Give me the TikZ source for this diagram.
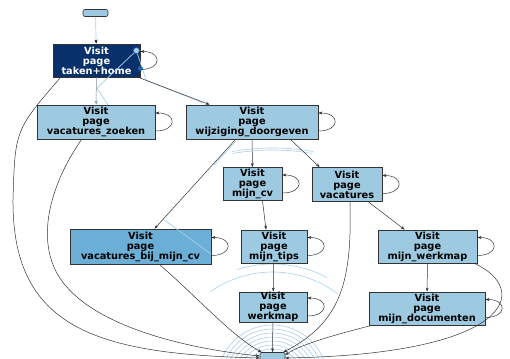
\documentclass[tikz,border=0pt]{standalone}
\usepackage{fontspec}
\setsansfont{DejaVu Sans}
\usetikzlibrary{arrows.meta}
\definecolor{nodefill}{HTML}{9ECAE1}
\definecolor{darkfill}{HTML}{08306B}
\definecolor{midfill}{HTML}{6BAED6}
\definecolor{tracecol}{HTML}{A9D0EA}
\definecolor{edgecol}{HTML}{333333}
\definecolor{dotcol}{HTML}{2166AC}
\begin{document}
\begin{tikzpicture}[x=1pt,y=-1pt,
  page/.style={draw=edgecol, line width=0.8pt, fill=nodefill, text=black,
    font=\sffamily\bfseries\fontsize{9.8}{10}\selectfont, align=center, inner sep=0pt},
  edge/.style={draw=edgecol, line width=0.5pt, -{Stealth[length=4pt,width=3pt]}},
  traceline/.style={draw=tracecol, line width=0.7pt},
  term/.style={draw=edgecol, line width=0.6pt, fill=nodefill, rounded corners=2pt, inner sep=0pt}]
\useasboundingbox (0,0) rectangle (510,358);

% light blue trace decorations (background)
\foreach \r in {27,31,...,55} {
  \draw[traceline, line width=0.6pt] (272.5,380) ++(180:\r) arc[start angle=180, end angle=360, radius=\r];
}
\draw[traceline, line width=0.6pt] (272.5,380) ++(235:108) arc[start angle=235, end angle=307, radius=108];
\draw[traceline, line width=0.6pt] (272.5,380) ++(252:116) arc[start angle=252, end angle=298, radius=116];
\draw[traceline, line width=0.6pt] (272.5,380) ++(260:230) arc[start angle=260, end angle=280, radius=230];
\draw[traceline, line width=0.6pt] (272.5,380) ++(260:232) arc[start angle=260, end angle=280, radius=232];

% nodes
\node[term, minimum width=25pt, minimum height=7pt] (start) at (95.5,13) {};
\node[term, minimum width=25pt, minimum height=9pt, rounded corners=1pt] (end) at (272.5,357) {};

\node[page, fill=darkfill, text=white, minimum width=87pt, minimum height=33pt] (th) at (96.5,60.5) {Visit\\page\\taken+home};
\node[page, minimum width=118pt, minimum height=34pt] (vz) at (96,122) {Visit\\page\\vacatures\_zoeken};
\node[page, minimum width=132pt, minimum height=34pt] (wd) at (252,122) {Visit\\page\\wijziging\_doorgeven};
\node[page, minimum width=59pt, minimum height=33pt] (cv) at (252.5,184) {Visit\\page\\mijn\_cv};
\node[page, minimum width=70pt, minimum height=34pt] (vac) at (347,184.5) {Visit\\page\\vacatures};
\node[page, fill=midfill, minimum width=141pt, minimum height=35pt] (vbm) at (140.5,246.5) {Visit\\page\\vacatures\_bij\_mijn\_cv};
\node[page, minimum width=66pt, minimum height=33pt] (tips) at (274,246.5) {Visit\\page\\mijn\_tips};
\node[page, minimum width=99pt, minimum height=33pt] (mw) at (427.5,246.5) {Visit\\page\\mijn\_werkmap};
\node[page, minimum width=68pt, minimum height=30pt] (wm) at (273,307) {Visit\\page\\werkmap};
\node[page, minimum width=116pt, minimum height=33pt] (md) at (427,308.5) {Visit\\page\\mijn\_documenten};

% trace lines
\draw[traceline] ([xshift=-4pt,yshift=-7pt]th.north east) -- (97,88);
\draw[traceline] ([xshift=-4pt,yshift=-7pt]th.north east) -- (146,80) -- (203,103);
\draw[traceline] (97,88) -- (108,105);
\draw[traceline] (163,219) -- (211,254);
\draw[traceline] (236,141) -- (214,165);

% edges
\draw[traceline, -{Stealth[length=4pt,width=3pt,black]}] (start) -- (th);
\draw[edge, draw=tracecol!60!edgecol] (th) -- (vz);
\draw[edge] ([xshift=-2pt]th.south east) -- ([xshift=24pt]wd.north west);
\draw[edge] ([xshift=8pt]th.south west) .. controls (15,130) .. (13,200)
   .. controls (12,330) and (100,354) .. ([yshift=-1pt]end.west);
\draw[edge] ([xshift=45pt]vz.south west) .. controls (52,182) and (40,228) .. (52,262)
   .. controls (72,322) and (180,348) .. ([yshift=1pt]end.west);
\draw[edge] (wd) -- (cv);
\draw[edge] ([xshift=-28pt]wd.south east) -- ([xshift=8pt]vac.north west);
\draw[edge] ([xshift=50pt]wd.south west) -- ([xshift=85pt]vbm.north west);
\draw[edge] ([xshift=10pt]cv.south) -- ([xshift=-8pt]tips.north);
\draw[edge] ([xshift=-14pt]vac.south east) -- ([xshift=27pt]mw.north west);
\draw[edge] ([xshift=3pt]vac.south) .. controls (352,280) and (342,322) .. ([xshift=-2pt]end.north east);
\draw[edge] ([xshift=-52pt]vbm.south east) .. controls (200,300) and (232,336) .. ([xshift=2pt]end.north west);
\draw[edge] (tips) -- (wm);
\draw[edge] (wm) -- (end);
\draw[edge] (mw) -- (md);
\draw[edge] ([xshift=-3pt]mw.south east) .. controls (532,290) and (512,354) .. ([yshift=-1pt]end.east);
\draw[edge] ([xshift=3pt]md.south west) .. controls (330,336) and (300,345) .. ([yshift=2pt]end.east);

% self loops
\foreach \n in {th,vz,wd,cv,vac,vbm,tips,mw,wm,md} {
  \draw[edge] ([yshift=-9pt]\n.east) .. controls +(22,0) and +(22,0) .. ([yshift=9pt]\n.east);
}

% markers on taken+home
\draw[dotcol, fill=tracecol, line width=0.6pt] ([xshift=-4pt,yshift=-7pt]th.north east) circle (3pt);
\fill[dotcol] ([yshift=-8pt]th.east) circle (2.5pt);
\end{tikzpicture}
\end{document}
